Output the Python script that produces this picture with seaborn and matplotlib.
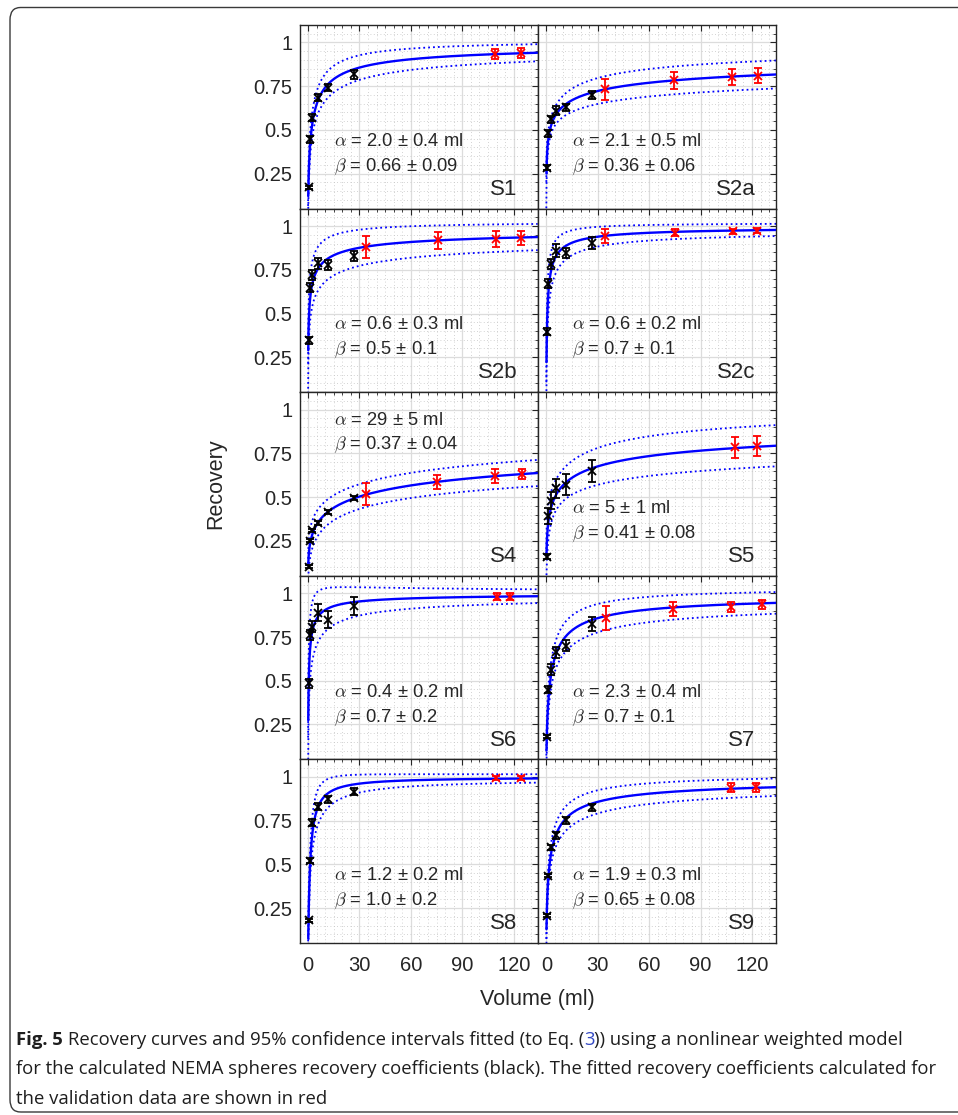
import numpy as np
import pandas as pd
import matplotlib
matplotlib.use("Agg")
import matplotlib.pyplot as plt
import seaborn as sns
from matplotlib.ticker import MultipleLocator, FixedLocator, FixedFormatter, NullFormatter
from matplotlib.patches import FancyBboxPatch
from matplotlib import font_manager

# ---------------- data ----------------
panels = ["S1", "S2a", "S2b", "S2c", "S4", "S5", "S6", "S7", "S8", "S9"]

nema_volume = [0.52, 1.15, 2.57, 5.58, 11.49, 26.52]          # ml (black points)

black_recovery = [
    [0.171, 0.447, 0.569, 0.683, 0.742, 0.817],   # S1
    [0.285, 0.482, 0.561, 0.610, 0.630, 0.700],   # S2a
    [0.347, 0.647, 0.720, 0.787, 0.777, 0.828],   # S2b
    [0.395, 0.670, 0.783, 0.860, 0.845, 0.903],   # S2c
    [0.102, 0.251, 0.310, 0.353, 0.416, 0.494],   # S4
    [0.160, 0.390, 0.480, 0.550, 0.570, 0.650],   # S5
    [0.486, 0.760, 0.810, 0.890, 0.850, 0.926],   # S6
    [0.180, 0.447, 0.564, 0.662, 0.700, 0.824],   # S7
    [0.180, 0.520, 0.739, 0.830, 0.873, 0.916],   # S8
    [0.206, 0.435, 0.598, 0.665, 0.753, 0.827],   # S9
]
black_error = [
    [0.010, 0.020, 0.020, 0.020, 0.020, 0.025],
    [0.015, 0.020, 0.020, 0.025, 0.020, 0.025],
    [0.020, 0.025, 0.030, 0.030, 0.030, 0.030],
    [0.020, 0.025, 0.030, 0.035, 0.030, 0.035],
    [0.010, 0.010, 0.010, 0.010, 0.010, 0.010],
    [0.015, 0.045, 0.050, 0.055, 0.060, 0.065],
    [0.025, 0.030, 0.030, 0.050, 0.050, 0.050],
    [0.010, 0.020, 0.030, 0.030, 0.030, 0.040],
    [0.010, 0.015, 0.020, 0.020, 0.020, 0.020],
    [0.010, 0.010, 0.015, 0.020, 0.020, 0.020],
]

red_volume = [
    [109, 124],
    [34, 74.5, 108.5, 123.3],
    [34, 76, 109.5, 124],
    [34, 75, 109, 123],
    [34, 75, 109, 125],
    [110, 123],
    [110, 118],
    [35, 74, 108, 126],
    [109.5, 124],
    [108, 122.5],
]
red_recovery = [
    [0.935, 0.941],
    [0.732, 0.783, 0.803, 0.811],
    [0.880, 0.919, 0.928, 0.934],
    [0.942, 0.961, 0.971, 0.973],
    [0.518, 0.588, 0.622, 0.631],
    [0.784, 0.792],
    [0.980, 0.980],
    [0.857, 0.910, 0.922, 0.936],
    [0.994, 0.994],
    [0.939, 0.941],
]
red_error = [
    [0.030, 0.030],
    [0.060, 0.050, 0.045, 0.045],
    [0.064, 0.050, 0.045, 0.040],
    [0.040, 0.020, 0.015, 0.015],
    [0.063, 0.040, 0.040, 0.030],
    [0.060, 0.058],
    [0.020, 0.020],
    [0.068, 0.041, 0.030, 0.025],
    [0.010, 0.010],
    [0.025, 0.025],
]

# fitted parameters printed in each panel
alpha_value = [2.0, 2.1, 0.6, 0.6, 29, 5, 0.4, 2.3, 1.2, 1.9]
alpha_sigma = [0.4, 0.5, 0.3, 0.2, 5, 1, 0.2, 0.4, 0.2, 0.3]
beta_value = [0.66, 0.36, 0.5, 0.7, 0.37, 0.41, 0.7, 0.7, 1.0, 0.65]
beta_sigma = [0.09, 0.06, 0.1, 0.1, 0.04, 0.08, 0.2, 0.1, 0.2, 0.08]
alpha_text = ["2.0 ± 0.4", "2.1 ± 0.5", "0.6 ± 0.3", "0.6 ± 0.2", "29 ± 5",
              "5 ± 1", "0.4 ± 0.2", "2.3 ± 0.4", "1.2 ± 0.2", "1.9 ± 0.3"]
beta_text = ["0.66 ± 0.09", "0.36 ± 0.06", "0.5 ± 0.1", "0.7 ± 0.1", "0.37 ± 0.04",
             "0.41 ± 0.08", "0.7 ± 0.2", "0.7 ± 0.1", "1.0 ± 0.2", "0.65 ± 0.08"]
# half-width of the 95% band at the right edge of each panel
band_halfwidth_end = [0.049, 0.080, 0.075, 0.035, 0.075, 0.118, 0.035, 0.062, 0.024, 0.050]

x_ticks = [0, 30, 60, 90, 120]
y_ticks = [0.25, 0.5, 0.75, 1.0]
y_tick_labels = ["0.25", "0.5", "0.75", "1"]

caption_lines = [
    "for the calculated NEMA spheres recovery coefficients (black). The fitted recovery coefficients calculated for",
    "the validation data are shown in red",
]

# ---------------- style ----------------
sns.set_style("white")
plt.rcParams["font.family"] = ["Liberation Sans", "DejaVu Sans"]
plt.rcParams["mathtext.fontset"] = "cm"
plt.rcParams["axes.unicode_minus"] = False

names_available = {f.name for f in font_manager.fontManager.ttflist}
def pick(cands):
    for c in cands:
        if c in names_available:
            return c
    return "DejaVu Sans"
cap_family = pick(["Liberation Sans Narrow", "Open Sans", "Noto Sans", "DejaVu Sans"])

TXT = "#262626"
W, H = 958, 1115
fig = plt.figure(figsize=(W / 100, H / 100), dpi=100)
L, R, T, B = 299.5, 776.0, 25.0, 943.0
gs = fig.add_gridspec(5, 2, left=L / W, right=R / W, top=1 - T / H, bottom=1 - B / H,
                      wspace=0, hspace=0)

XLIM = (-5, 134)
YLIM = (0.05, 1.1)

def model(v, a, b):
    return 1.0 / (1.0 + (a / v) ** b)

def band_halfwidth(v, a, sa, b, sb, s2):
    u = (a / v) ** b
    r = 1.0 / (1.0 + u)
    dra = -r ** 2 * b * u / a
    drb = -r ** 2 * u * np.log(a / v)
    var = (dra * sa) ** 2 + (drb * sb) ** 2
    return 1.96 * np.sqrt(var + s2)

v_curve = np.geomspace(0.1, XLIM[1], 600)
v_band = np.geomspace(0.01, XLIM[1], 900)

for i, name in enumerate(panels):
    r, c = divmod(i, 2)
    ax = fig.add_subplot(gs[r, c])
    a, sa, b, sb = alpha_value[i], alpha_sigma[i], beta_value[i], beta_sigma[i]

    # residual term chosen so the band width at the right edge matches the picture
    v_end = np.array([XLIM[1]])
    par_only = band_halfwidth(v_end, a, sa, b, sb, 0.0)[0] / 1.96
    s2 = max((band_halfwidth_end[i] / 1.96) ** 2 - par_only ** 2, 1e-6)

    fit = model(v_band, a, b)
    hw = band_halfwidth(v_band, a, sa, b, sb, s2)
    df_band = pd.DataFrame({"Volume": np.concatenate([v_band, v_band]),
                            "Recovery": np.concatenate([fit + hw, fit - hw]),
                            "which": ["upper"] * len(v_band) + ["lower"] * len(v_band)})
    df_fit = pd.DataFrame({"Volume": v_curve, "Recovery": model(v_curve, a, b)})

    sns.lineplot(data=df_band, x="Volume", y="Recovery", units="which", estimator=None,
                 sort=False, color="blue", lw=1.3, linestyle=(0, (1, 1.7)), ax=ax, zorder=2)
    sns.lineplot(data=df_fit, x="Volume", y="Recovery", estimator=None, sort=False,
                 color="blue", lw=1.7, ax=ax, zorder=3)

    ax.errorbar(nema_volume, black_recovery[i], yerr=black_error[i], fmt="x", color="black",
                ms=5.5, mew=1.3, elinewidth=1.3, capsize=3.2, capthick=1.3, zorder=5)
    ax.errorbar(red_volume[i], red_recovery[i], yerr=red_error[i], fmt="x", color="red",
                ms=5.5, mew=1.3, elinewidth=1.3, capsize=3.2, capthick=1.3, zorder=5)

    ax.set_xlim(*XLIM)
    ax.set_ylim(*YLIM)
    ax.set_xlabel("")
    ax.set_ylabel("")

    ax.xaxis.set_major_locator(FixedLocator(x_ticks))
    ax.xaxis.set_minor_locator(MultipleLocator(5))
    ax.yaxis.set_major_locator(FixedLocator(y_ticks))
    ax.yaxis.set_minor_locator(MultipleLocator(0.05))
    if c == 0:
        ax.yaxis.set_major_formatter(FixedFormatter(y_tick_labels))
    else:
        ax.yaxis.set_major_formatter(NullFormatter())
    if r == 4:
        ax.xaxis.set_major_formatter(FixedFormatter([str(t) for t in x_ticks]))
    else:
        ax.xaxis.set_major_formatter(NullFormatter())

    ax.tick_params(which="both", direction="in", top=True, right=True, color=TXT,
                   labelcolor=TXT, labelsize=14.5)
    ax.tick_params(which="major", length=4.5, width=0.8)
    ax.tick_params(which="minor", length=2.2, width=0.6)
    ax.tick_params(axis="x", pad=9)
    ax.tick_params(axis="y", pad=5)

    ax.set_axisbelow(True)
    ax.grid(which="major", color="#dcdcdc", lw=0.9, ls="-")
    ax.grid(which="minor", color="#c4c4c4", lw=0.6, ls=(0, (1, 3)))
    for sp in ax.spines.values():
        sp.set_color(TXT)
        sp.set_linewidth(1.0)
        sp.set_visible(True)

    ya, yb = (0.94, 0.80) if name == "S4" else (0.435, 0.29)
    ax.text(15, ya, r"$\alpha$ = " + alpha_text[i] + " ml", fontsize=13.2, color=TXT,
            ha="left", va="center", zorder=6)
    ax.text(15, yb, r"$\beta$ = " + beta_text[i], fontsize=13.2, color=TXT,
            ha="left", va="center", zorder=6)
    ax.text(122, 0.16, name, fontsize=16, color=TXT, ha="right", va="center", zorder=6)

fig.text(216 / W, 1 - 484 / H, "Recovery", rotation=90, ha="center", va="center",
         fontsize=15.5, color=TXT)
fig.text(537.7 / W, 1 - 1000 / H, "Volume (ml)", ha="center", va="center",
         fontsize=15.5, color=TXT)

# ---------------- caption ----------------
renderer = fig.canvas.get_renderer()
CAP = "#1e1e1e"
LINK = "#3349c4"
line1 = [("Fig. 5", "bold", CAP, False),
         ("Recovery curves and 95% confidence intervals fitted (to Eq. (", "normal", CAP, True),
         ("3", "normal", LINK, False),
         ("))" + " using a nonlinear weighted model", "normal", CAP, False)]

def measure(s, size, weight="normal"):
    t = fig.text(0, 0, s, fontsize=size, family=cap_family, weight=weight)
    w = t.get_window_extent(renderer).width
    t.remove()
    return w

base = 14.0
w_line1 = measure("Fig. 5", base, "bold") + measure("a a", base) - measure("aa", base) + \
    measure(line1[1][0] + "3" + line1[3][0], base)
w_line2 = measure(caption_lines[0], base)
cap_size = base * min(914.0 / w_line1, 924.0 / w_line2)

space_w = measure("a a", cap_size) - measure("aa", cap_size)
x = 16.0
y1 = 1045.0
for s, wgt, col, lead_space in line1:
    if lead_space:
        x += space_w
    t = fig.text(x / W, 1 - y1 / H, s, fontsize=cap_size, family=cap_family, weight=wgt,
                 color=col, ha="left", va="baseline")
    x += t.get_window_extent(renderer).width
for k, s in enumerate(caption_lines):
    fig.text(16 / W, 1 - (y1 + 29.5 * (k + 1)) / H, s, fontsize=cap_size, family=cap_family,
             color=CAP, ha="left", va="baseline")

# rounded frame around the figure (open on the right side, as in the reference)
frame = FancyBboxPatch((10 / W, 1 - 1112 / H), 1.2, (1112 - 7.5) / H,
                       boxstyle="round,pad=0,rounding_size=0.011",
                       transform=fig.transFigure, fill=False, ec="#3a3a3a", lw=1.0,
                       clip_on=False)
fig.patches.append(frame)

fig.savefig("out.png", dpi=100)
